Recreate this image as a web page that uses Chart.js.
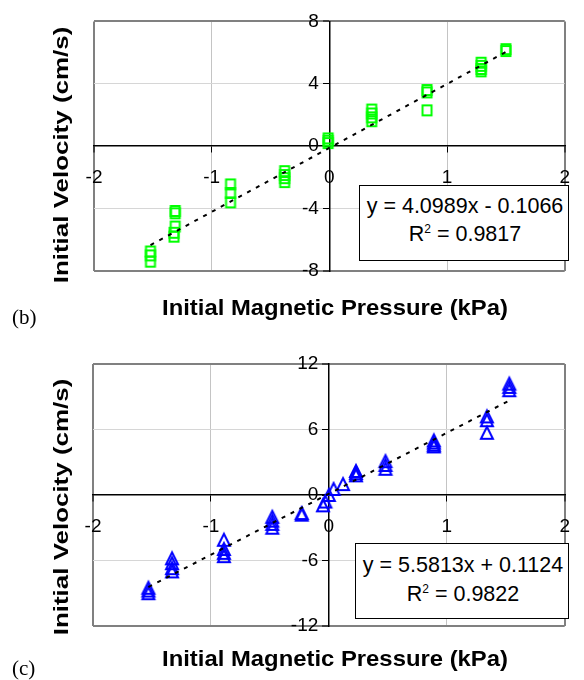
<!DOCTYPE html>
<html>
<head>
<meta charset="utf-8">
<script src="https://cdn.jsdelivr.net/npm/chart.js@4"></script>
<style>
html,body{margin:0;padding:0;background:#fff;}
body{width:584px;height:680px;position:relative;overflow:hidden;font-family:"Liberation Sans",Arial,sans-serif;}
canvas{position:absolute;left:0;}
.t{position:absolute;white-space:nowrap;color:#000;}
.xt{font-weight:bold;font-size:22.5px;line-height:22.5px;left:335px;transform:translateX(-50%) scaleX(1.06);}
.yt{font-weight:bold;font-size:19.5px;line-height:19.5px;left:62px;transform:translate(-50%,-50%) rotate(-90deg) scaleX(1.33);}
.lab{font-family:"Liberation Serif","Times New Roman",serif;font-size:21px;line-height:21px;left:12px;}
.box{position:absolute;box-sizing:border-box;border:1.5px solid #000;background:#fff;height:76px;}
.eq{font-size:21.5px;line-height:21.5px;transform:translateX(-50%);}
.eq sup{font-size:12px;position:relative;top:-8px;vertical-align:baseline;line-height:0;}
</style>
</head>
<body>
<canvas id="cb" width="584" height="340" style="top:0px;width:584px;height:340px"></canvas>
<canvas id="cc" width="584" height="340" style="top:340px;width:584px;height:340px"></canvas>

<div class="box" style="left:359px;top:185px;width:210px;"></div>
<div class="t eq" style="left:465px;top:196px;">y = 4.0989x - 0.1066</div>
<div class="t eq" style="left:465px;top:224px;">R<sup>2</sup> = 0.9817</div>

<div class="box" style="left:355px;top:543px;width:214px;"></div>
<div class="t eq" style="left:463px;top:555px;">y = 5.5813x + 0.1124</div>
<div class="t eq" style="left:463px;top:583.5px;">R<sup>2</sup> = 0.9822</div>

<div class="t yt" style="top:155px;">Initial Velocity (cm/s)</div>
<div class="t yt" style="top:507px;">Initial Velocity (cm/s)</div>
<div class="t xt" style="top:297px;">Initial Magnetic Pressure (kPa)</div>
<div class="t xt" style="top:648px;">Initial Magnetic Pressure (kPa)</div>
<div class="t lab" style="top:307px;">(b)</div>
<div class="t lab" style="top:658px;">(c)</div>

<script>
// ---- data ----
const pressureB = [1.50, 1.50,
  1.29, 1.29, 1.29, 1.29,
  0.83, 0.83, 0.83,
  0.36, 0.36, 0.36, 0.36,
  -0.01, -0.01, -0.01,
  -0.38, -0.38, -0.38, -0.38,
  -0.84, -0.84, -0.84,
  -1.31, -1.31, -1.31, -1.32, -1.32,
  -1.52, -1.52, -1.52];
const velocityB = [6.10, 6.22,
  5.35, 5.15, 4.95, 4.80,
  3.60, 3.45, 2.30,
  2.35, 2.10, 1.85, 1.60,
  0.50, 0.35, 0.20,
  -1.60, -1.85, -2.05, -2.30,
  -2.45, -3.00, -3.60,
  -4.15, -4.30, -5.15, -5.55, -5.80,
  -6.75, -7.00, -7.40];

const pressureC = [1.53, 1.53, 1.53,
  1.34, 1.34, 1.34,
  0.89, 0.89, 0.89, 0.89,
  0.48, 0.48, 0.48,
  0.23, 0.23, 0.23,
  0.12, 0.04, 0.00, -0.03, -0.05,
  -0.23, -0.23,
  -0.48, -0.48, -0.48, -0.48,
  -0.89, -0.89, -0.89, -0.89,
  -1.33, -1.33, -1.33, -1.33,
  -1.53, -1.53, -1.53];
const velocityC = [10.2, 9.9, 9.6,
  7.2, 6.85, 5.7,
  5.0, 4.8, 4.6, 4.45,
  3.1, 2.75, 2.4,
  2.2, 2.0, 1.8,
  1.0, 0.55, 0.0, -0.6, -0.95,
  -1.65, -1.8,
  -2.0, -2.35, -2.65, -3.0,
  -4.1, -4.95, -5.3, -5.6,
  -5.8, -6.25, -6.7, -7.0,
  -8.5, -8.75, -9.0];

// trendline end points (as drawn in the reference)
const trendXB = [-1.52, 1.50];
const trendYB = [-6.34, 6.04];
const trendXC = [-1.53, 1.53];
const trendYC = [-8.43, 8.65];

const xTicks = [-2, -1, 0, 1, 2];
const yTicksB = [-8, -4, 0, 4, 8];
const yTicksC = [-12, -6, 0, 6, 12];

// ---- marker images ----
function squareMarker(color) {
  const c = document.createElement('canvas');
  c.width = 14; c.height = 14;
  const g = c.getContext('2d');
  g.strokeStyle = color; g.lineWidth = 2;
  g.strokeRect(2.5, 2, 9, 10);
  return c;
}
function triangleMarker(color) {
  const c = document.createElement('canvas');
  c.width = 18; c.height = 18;
  const g = c.getContext('2d');
  g.strokeStyle = color; g.lineWidth = 2;
  g.beginPath();
  g.moveTo(9, 3); g.lineTo(15, 15); g.lineTo(3, 15); g.closePath();
  g.stroke();
  return c;
}

function makeChart(id, px, py, tx, ty, yTicks, img, pad) {
  const pts = px.map((x, i) => ({x: x, y: py[i]}));
  const trend = tx.map((x, i) => ({x: x, y: ty[i]}));
  const xMin = xTicks[0], xMax = xTicks[xTicks.length - 1];
  const yMin = yTicks[0], yMax = yTicks[yTicks.length - 1];
  const gc = (lo, hi, light) => (c) => {
    const v = c.tick ? c.tick.value : null;
    if (v === lo || v === hi) return '#808080';
    if (v === 0) return 'rgba(0,0,0,0)';
    return light;
  };
  const gw = (lo, hi) => (c) => {
    const v = c.tick ? c.tick.value : null;
    return (v === lo || v === hi) ? 2 : 1;
  };
  const tickFont = {family: 'Liberation Sans', size: 19};
  return new Chart(document.getElementById(id), {
    type: 'scatter',
    data: {
      datasets: [
        {data: trend, showLine: true, borderColor: '#000', borderWidth: 2,
         borderDash: [4, 6], pointRadius: 0, fill: false},
        {data: pts, pointStyle: img, pointRadius: 6, showLine: false}
      ]
    },
    options: {
      responsive: false, animation: false, devicePixelRatio: 1, events: [],
      layout: {padding: pad},
      plugins: {legend: {display: false}, tooltip: {enabled: false}},
      scales: {
        x: {
          type: 'linear', position: {y: 0}, min: xMin, max: xMax,
          afterBuildTicks: s => { s.ticks = xTicks.map(v => ({value: v})); },
          ticks: {font: tickFont, color: '#000', padding: 14, maxRotation: 0, autoSkip: false},
          grid: {color: gc(xMin, xMax, '#c4c4c4'), lineWidth: gw(xMin, xMax),
                 tickLength: 6, tickColor: '#000', tickWidth: 1},
          border: {color: '#000', width: 1.5}
        },
        y: {
          type: 'linear', position: {x: 0}, min: yMin, max: yMax,
          afterBuildTicks: s => { s.ticks = yTicks.map(v => ({value: v})); },
          ticks: {font: tickFont, color: '#000', padding: 10, autoSkip: false,
                  callback: v => String(v) + '  '},
          grid: {color: gc(yMin, yMax, '#d6d6d6'), lineWidth: gw(yMin, yMax),
                 tickLength: 6, tickColor: '#000', tickWidth: 1},
          border: {color: '#000', width: 1.5}
        }
      }
    }
  });
}

makeChart('cb', pressureB, velocityB, trendXB, trendYB, yTicksB,
  squareMarker('#00ff00'), {left: 94, right: 9, top: 14, bottom: 69});
makeChart('cc', pressureC, velocityC, trendXC, trendYC, yTicksC,
  triangleMarker('#0000ff'), {left: 93, right: 11, top: 24, bottom: 54});
</script>
</body>
</html>
